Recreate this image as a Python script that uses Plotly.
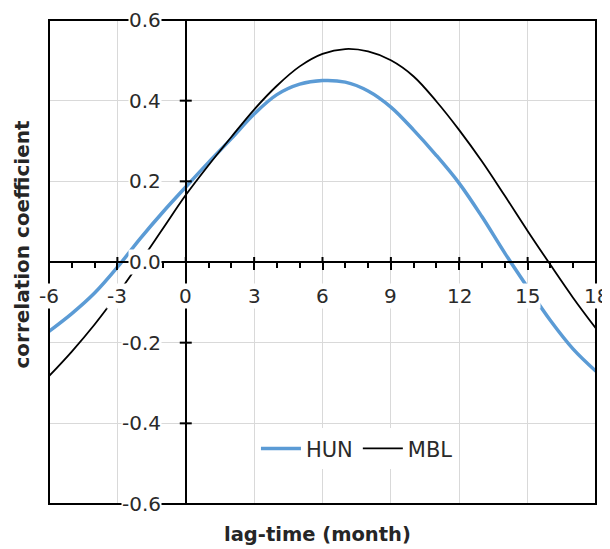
import plotly.graph_objects as go

# lag time in months
lag = list(range(-6, 19))

hun = [-0.172, -0.128, -0.077, -0.013, 0.058, 0.124, 0.186, 0.247, 0.306, 0.367,
       0.415, 0.441, 0.450, 0.446, 0.424, 0.384, 0.327, 0.264, 0.195, 0.112,
       0.022, -0.063, -0.145, -0.216, -0.271]
mbl = [-0.283, -0.222, -0.155, -0.080, 0.000, 0.083, 0.166, 0.240, 0.310, 0.378,
       0.437, 0.485, 0.516, 0.528, 0.522, 0.500, 0.460, 0.398, 0.327, 0.249,
       0.164, 0.077, -0.007, -0.089, -0.165]

x_ticks = [-6, -3, 0, 3, 6, 9, 12, 15, 18]
y_ticks = [0.6, 0.4, 0.2, 0.0, -0.2, -0.4, -0.6]
y_labels = ["0.6", "0.4", "0.2", "0.0", "-0.2", "-0.4", "-0.6"]

FONT = "DejaVu Sans"
TXT = "#2a2a2a"

fig = go.Figure()
fig.add_trace(go.Scatter(x=lag, y=hun, mode="lines", name="HUN",
                         line=dict(color="#5B9BD5", width=3.5, shape="spline")))
fig.add_trace(go.Scatter(x=lag, y=mbl, mode="lines", name="MBL",
                         line=dict(color="black", width=1.8, shape="spline")))

# tick labels with white boxes, like the original
for t in x_ticks:
    fig.add_annotation(x=t, y=0, text=str(t), showarrow=False, yshift=-34,
                       yanchor="middle", bgcolor="white", borderpad=0,
                       font=dict(family=FONT, size=20, color=TXT))
for t, lab in zip(y_ticks, y_labels):
    fig.add_annotation(x=0, y=t, text=lab, showarrow=False, xshift=-24,
                       xanchor="right", yanchor="middle", bgcolor="white",
                       borderpad=0, font=dict(family=FONT, size=20, color=TXT))

# cross ticks on the y axis line and upper half of x major ticks
for t in y_ticks[1:-1]:
    if t != 0:
        fig.add_shape(type="line", xref="x", yref="y", xsizemode="pixel", xanchor=0,
                      x0=-6, x1=6, y0=t, y1=t, line=dict(color="black", width=2))
for t in x_ticks[1:-1]:
    fig.add_shape(type="line", xref="x", yref="y", ysizemode="pixel", yanchor=0,
                  x0=t, x1=t, y0=0, y1=5, line=dict(color="black", width=2))

# plot frame
fig.add_shape(type="rect", xref="x domain", yref="y domain", x0=0, x1=1, y0=0, y1=1,
              line=dict(color="black", width=2))

fig.add_annotation(xref="paper", yref="paper", x=0.49, y=0, yshift=-30, yanchor="middle",
                   text="<b>lag-time (month)</b>", showarrow=False,
                   font=dict(family=FONT, size=19.5, color="#262626"))
fig.add_annotation(xref="paper", yref="paper", x=0, xshift=-27, xanchor="center",
                   y=0.536, yanchor="middle",
                   text="<b>correlation coefficient</b>", showarrow=False, textangle=-90,
                   font=dict(family=FONT, size=20, color="#262626"))

# page body has an 8px margin, so the figure is a bit smaller than the window
fig.update_layout(
    width=602, height=541,
    margin=dict(l=41, r=14, t=12, b=45),
    plot_bgcolor="white", paper_bgcolor="white",
    font=dict(family=FONT, size=20, color=TXT),
    showlegend=True,
    legend=dict(orientation="h", x=0.563, xanchor="center", y=0.114, yanchor="middle",
                bgcolor="white", font=dict(family=FONT, size=21, color=TXT),
                itemwidth=40),
    xaxis=dict(range=[-6, 18], tickvals=x_ticks, showticklabels=False,
               showgrid=True, gridcolor="#D9D9D9", gridwidth=1.3, zeroline=False,
               showline=True, linecolor="black", linewidth=2,
               ticks="outside", ticklen=7, tickwidth=2, tickcolor="black",
               minor=dict(dtick=1, ticks="outside", ticklen=5, tickwidth=2,
                          tickcolor="black", showgrid=False),
               anchor="free", position=0.5),
    yaxis=dict(range=[-0.6, 0.6], tickvals=y_ticks, showticklabels=False,
               showgrid=True, gridcolor="#D9D9D9", gridwidth=1.3, zeroline=False,
               showline=True, linecolor="black", linewidth=2, ticks="",
               anchor="free", position=0.25),
)

fig.write_html("out.html")
